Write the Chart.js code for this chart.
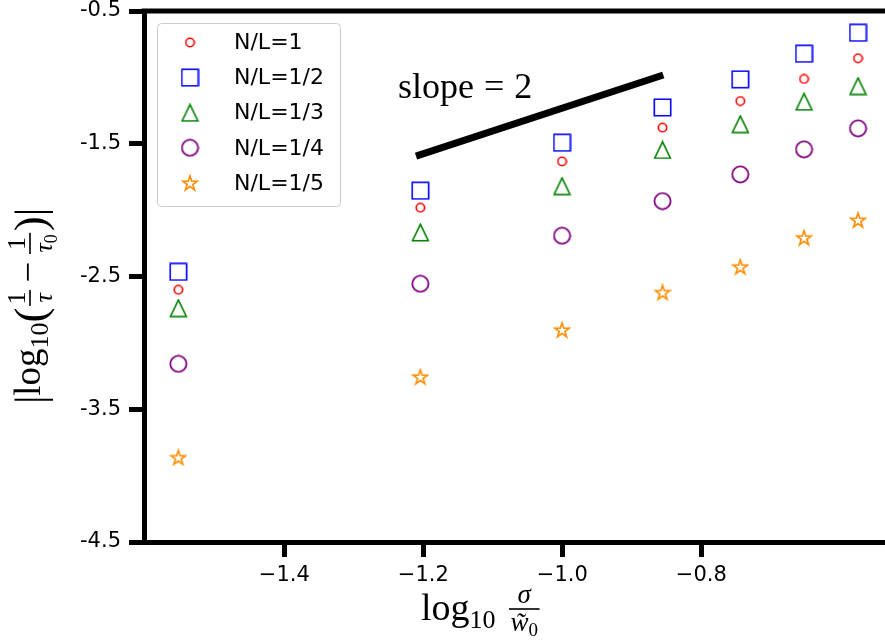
<!DOCTYPE html>
<html>
<head>
<meta charset="utf-8">
<script src="https://cdn.jsdelivr.net/npm/chart.js@4.4.1/dist/chart.umd.min.js"></script>
<style>
  html, body { margin: 0; padding: 0; background: #fff; }
  #wrap { width: 885px; height: 644px; position: relative; }
</style>
</head>
<body>
<div id="wrap"><canvas id="chart"></canvas></div>
<script>
// values
const xVals = [-1.5525, -1.2043, -1.0004, -0.8558, -0.7439, -0.6522, -0.5745];
const nl1 = [-2.600, -1.982, -1.633, -1.379, -1.178, -1.012, -0.856];
const nl2 = [-2.465, -1.854, -1.492, -1.226, -1.015, -0.822, -0.664];
const nl3 = [-2.738, -2.168, -1.819, -1.547, -1.352, -1.183, -1.065];
const nl4 = [-3.158, -2.555, -2.193, -1.932, -1.731, -1.542, -1.384];
const nl5 = [-3.863, -3.256, -2.902, -2.620, -2.427, -2.208, -2.075];
const seriesLabels = ["N/L=1", "N/L=1/2", "N/L=1/3", "N/L=1/4", "N/L=1/5"];

// guide line "slope=2"
const slopeX = [-1.2105, -0.8547];
const slopeY = [-1.593, -0.982];
const slopeText = ["slope", "=", "2"];

const xTicks = [-1.4, -1.2, -1.0, -0.8];
const xTickLabels = ["\u22121.4", "\u22121.2", "\u22121.0", "\u22120.8"];
const yTicks = [-4.5, -3.5, -2.5, -1.5, -0.5];
const yTickLabels = ["-4.5", "-3.5", "-2.5", "-1.5", "-0.5"];

const SERIF = '"Liberation Serif", "DejaVu Serif", serif';
const SANS = '"DejaVu Sans", sans-serif';

// marker images, drawn like matplotlib's open markers
function makeMarker(kind, color, size, lw) {
  const c = document.createElement("canvas");
  c.width = size; c.height = size;
  const g = c.getContext("2d");
  const m = size / 2;
  g.strokeStyle = color;
  g.lineWidth = lw;
  g.lineJoin = "miter";
  g.beginPath();
  if (kind === "circle") {
    g.arc(m, m, m - lw / 2 - 0.5, 0, Math.PI * 2);
  } else if (kind === "square") {
    const h = m - lw / 2 - 0.5;
    g.rect(m - h, m - h, 2 * h, 2 * h);
  } else if (kind === "triangle") {
    const h = m - lw / 2 - 0.5;
    g.moveTo(m, m - h);
    g.lineTo(m - h * 0.96, m + h);
    g.lineTo(m + h * 0.96, m + h);
    g.closePath();
  } else if (kind === "star") {
    const R = m - lw / 2 - 0.5, r = R * 0.382;
    for (let i = 0; i < 10; i++) {
      const a = -Math.PI / 2 + i * Math.PI / 5;
      const rr = i % 2 === 0 ? R : r;
      const px = m + rr * Math.cos(a), py = m + 0.6 + rr * Math.sin(a);
      if (i === 0) g.moveTo(px, py); else g.lineTo(px, py);
    }
    g.closePath();
  }
  g.stroke();
  return c;
}

const markers = [
  makeMarker("circle", "#ff0000", 11, 1.6),
  makeMarker("square", "#0000ff", 19, 1.6),
  makeMarker("triangle", "#008000", 19, 1.6),
  makeMarker("circle", "#800080", 19, 1.8),
  makeMarker("star", "#ff8c00", 18, 1.6)
];
const colors = ["#ff0000", "#0000ff", "#008000", "#800080", "#ff8c00"];
const allSeries = [nl1, nl2, nl3, nl4, nl5];

function toPoints(ys) {
  return xVals.map((x, i) => ({ x: x, y: ys[i] }));
}

// ---- small math-text layout helper for the axis titles ----
function partWidth(g, p) {
  if (p.type === "frac") {
    return Math.max(seqWidth(g, p.num), seqWidth(g, p.den)) + 2 * (p.pad || 0);
  }
  g.font = p.font;
  return g.measureText(p.s).width + (p.before || 0) + (p.after || 0);
}
function seqWidth(g, parts) {
  return parts.reduce((s, p) => s + partWidth(g, p), 0);
}
function drawSeq(g, parts, x, base) {
  parts.forEach(p => {
    const w = partWidth(g, p);
    if (p.type === "frac") {
      const barY = base - p.axis;
      g.fillRect(x + p.pad * 0.5, barY - 0.8, w - p.pad, 1.6);
      const nw = seqWidth(g, p.num), dw = seqWidth(g, p.den);
      drawSeq(g, p.num, x + (w - nw) / 2, barY - p.gapNum);
      drawSeq(g, p.den, x + (w - dw) / 2, barY + p.gapDen);
    } else {
      g.font = p.font;
      g.fillText(p.s, x + (p.before || 0), base + (p.dy || 0));
    }
    x += w;
  });
}

const xTitle = [
  { s: "log", font: "38px " + SERIF },
  { s: "10", font: "26px " + SERIF, dy: 8, after: 12 },
  { type: "frac", pad: 3, axis: 11, gapNum: 6, gapDen: 22,
    num: [{ s: "\u03c3", font: "italic 27px " + SERIF }],
    den: [{ s: "w\u0303", font: "italic 27px " + SERIF },
          { s: "0", font: "19px " + SERIF, dy: 5 }] }
];

const yTitle = [
  { s: "|", font: "42px " + SERIF, dy: 4 },
  { s: "log", font: "37px " + SERIF },
  { s: "10", font: "26px " + SERIF, dy: 8 },
  { s: "(", font: "45px " + SERIF, dy: 5 },
  { type: "frac", pad: 3, axis: 10, gapNum: 5, gapDen: 22,
    num: [{ s: "1", font: "26px " + SERIF }],
    den: [{ s: "\u03c4", font: "italic 26px " + SERIF }] },
  { s: "\u2212", font: "37px " + SERIF, before: 6, after: 6 },
  { type: "frac", pad: 3, axis: 10, gapNum: 5, gapDen: 22,
    num: [{ s: "1", font: "26px " + SERIF }],
    den: [{ s: "\u03c4", font: "italic 26px " + SERIF },
          { s: "0", font: "18px " + SERIF, dy: 5 }] },
  { s: ")", font: "45px " + SERIF, dy: 5 },
  { s: "|", font: "42px " + SERIF, dy: 4 }
];

const decorPlugin = {
  id: "decor",
  afterDraw(chart) {
    const g = chart.ctx;
    const area = chart.chartArea;
    const xs = chart.scales.x, ys = chart.scales.y;
    g.save();
    g.fillStyle = "#000";
    g.strokeStyle = "#000";

    // top spine
    g.lineWidth = 5;
    g.beginPath();
    g.moveTo(area.left - 2.5, area.top);
    g.lineTo(chart.width, area.top);
    g.stroke();

    // slope label, spaced like TeX math
    g.font = "36px " + SERIF;
    g.textBaseline = "alphabetic";
    g.textAlign = "left";
    let tx = xs.getPixelForValue(-1.2364);
    const ty = ys.getPixelForValue(-1.156);
    slopeText.forEach((s, i) => {
      if (i > 0) tx += 10;
      g.fillText(s, tx, ty);
      tx += g.measureText(s).width;
    });

    // x title
    const xw = seqWidth(g, xTitle);
    drawSeq(g, xTitle, 481 - xw / 2, 620);

    // y title (rotated)
    const yw = seqWidth(g, yTitle);
    g.save();
    g.translate(40, 306);
    g.rotate(-Math.PI / 2);
    drawSeq(g, yTitle, -yw / 2, 0);
    g.restore();

    // legend
    const bx = 157, by = 23, bw = 183, bh = 183;
    g.fillStyle = "rgba(255,255,255,0.8)";
    g.strokeStyle = "#cccccc";
    g.lineWidth = 1;
    g.beginPath();
    g.roundRect(bx + 0.5, by + 0.5, bw, bh, 4);
    g.fill();
    g.stroke();
    g.fillStyle = "#000";
    g.font = "22px " + SANS;
    g.textBaseline = "middle";
    chart.data.datasets.forEach((ds, i) => {
      if (!ds.pointStyle || typeof ds.pointStyle === "string") return;
      const cy = 42.5 + i * 35.1;
      const img = ds.pointStyle;
      g.drawImage(img, 190 - img.width / 2, cy - img.height / 2);
      g.fillText(ds.label, 234, cy + 1);
    });
    g.restore();
  }
};

const datasets = allSeries.map((ys, i) => ({
  type: "scatter",
  label: seriesLabels[i],
  data: toPoints(ys),
  pointStyle: markers[i],
  pointRadius: 8,
  pointHoverRadius: 8,
  borderColor: colors[i],
  backgroundColor: "transparent"
}));

datasets.push({
  type: "line",
  label: "slope",
  data: slopeX.map((x, i) => ({ x: x, y: slopeY[i] })),
  borderColor: "#000",
  borderWidth: 7,
  borderCapStyle: "butt",
  pointRadius: 0,
  fill: false
});

new Chart(document.getElementById("chart"), {
  data: { datasets: datasets },
  options: {
    responsive: true,
    maintainAspectRatio: false,
    animation: false,
    events: [],
    // axes run off the right edge in the original, so no auto padding there
    layout: { autoPadding: false, padding: { top: 11, right: 0, left: 0, bottom: 0 } },
    plugins: { legend: { display: false }, tooltip: { enabled: false } },
    scales: {
      x: {
        type: "linear",
        min: -1.6019,
        max: -0.5357,
        afterBuildTicks: s => { s.ticks = xTicks.map(v => ({ value: v })); },
        afterFit: s => { s.height = 102; s.paddingLeft = 0; s.paddingRight = 0; },
        ticks: {
          color: "#000",
          font: { family: SANS, size: 21 },
          padding: 6,
          maxRotation: 0,
          callback: (v, i) => xTickLabels[i]
        },
        grid: { drawOnChartArea: false, tickLength: 15, tickWidth: 5, tickColor: "#000" },
        border: { color: "#000", width: 5 }
      },
      y: {
        type: "linear",
        min: -4.5,
        max: -0.5,
        afterBuildTicks: s => { s.ticks = yTicks.map(v => ({ value: v })); },
        afterFit: s => { s.width = 144; s.paddingTop = 0; s.paddingBottom = 0; },
        ticks: {
          color: "#000",
          font: { family: SANS, size: 21 },
          padding: 8,
          callback: (v, i) => yTickLabels[i]
        },
        grid: { drawOnChartArea: false, tickLength: 15, tickWidth: 5, tickColor: "#000" },
        border: { color: "#000", width: 5 }
      }
    }
  },
  plugins: [decorPlugin]
});
</script>
</body>
</html>
